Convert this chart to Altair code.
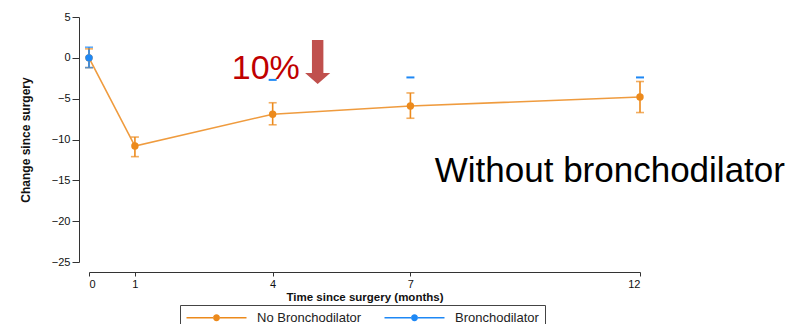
import altair as alt
import pandas as pd

# ---- data ----
months = [0, 1, 4, 7, 12]
no_mean = [0.0, -10.8, -6.9, -5.9, -4.8]
no_lo = [-1.2, -12.1, -8.2, -7.4, -6.7]
no_hi = [1.1, -9.7, -5.5, -4.3, -2.9]

br_months = [0]
br_mean = [0.0]
br_lo = [-1.2]
br_hi = [1.3]

# visible fragments of the (mostly hidden) bronchodilator error bars
br_cap_months = [4, 7, 12]
br_cap_vals = [-2.7, -2.4, -2.4]

series = ["No Bronchodilator", "Bronchodilator"]
colors = ["#EC8A1C", "#1E88F5"]

y_ticks = [5, 0, -5, -10, -15, -20, -25]
x_ticks = [0, 1, 4, 7, 12]

# annotations (data coordinates)
pct_text = ["10%"]
pct_pos = [3.11, -2.57]
arrow_pos = [4.98, -0.5]
note_text = ["Without bronchodilator"]
note_pos = [7.53, -15.2]

FONT = "Liberation Sans"

rows = []
for m, v, lo, hi in zip(months, no_mean, no_lo, no_hi):
    rows.append({"series": series[0], "month": m, "mean": v, "lo": lo, "hi": hi})
for m, v, lo, hi in zip(br_months, br_mean, br_lo, br_hi):
    rows.append({"series": series[1], "month": m, "mean": v, "lo": lo, "hi": hi})
df = pd.DataFrame(rows)

caps_df = pd.DataFrame({"month": br_cap_months, "val": br_cap_vals})

xscale = alt.Scale(domain=[0, 12], nice=False, zero=False)
yscale = alt.Scale(domain=[-25, 5], nice=False, zero=False)
cscale = alt.Scale(domain=series, range=colors)

x_axis = alt.Axis(values=x_ticks, title="Time since surgery (months)", offset=10,
                  tickSize=4, labelPadding=2, titlePadding=2, grid=False,
                  labelFontSize=11, titleFontSize=11.5, titleFontWeight="bold",
                  labelFont=FONT, titleFont=FONT, domainColor="#333", tickColor="#333",
                  labelColor="#111", titleColor="#111", format="d")
y_axis = alt.Axis(values=y_ticks, title="Change since surgery", offset=10,
                  tickSize=7, labelPadding=2, titlePadding=19, grid=False,
                  labelFontSize=11, titleFontSize=12, titleFontWeight="bold",
                  labelFont=FONT, titleFont=FONT, domainColor="#333", tickColor="#333",
                  labelColor="#111", titleColor="#111", format="d")

# legend key: a 60px line with a dot in its middle, extending to the right of
# the nominal 12px symbol box (scale = 6px per unit)
legend_shape = ("M-1,-0.12H3.45V0.12H-1Z M4.55,-0.12H9V0.12H4.55Z "
                "M3.42,0A0.58,0.58 0 1,0 4.58,0A0.58,0.58 0 1,0 3.42,0Z")

legend = alt.Legend(
    title=None, orient="none", legendX=91, legendY=288,
    direction="horizontal", columns=2,
    symbolType=legend_shape, symbolSize=144, symbolStrokeWidth=0,
    symbolOpacity=1,
    labelFont=FONT, labelFontSize=13, labelColor="#222",
    labelOffset=58, columnPadding=22,
    strokeColor="#444", fillColor="white", padding=6,
)
color = alt.Color("series:N", scale=cscale, legend=legend)

base = alt.Chart(df)

line = base.transform_filter(alt.datum.series == series[0]).mark_line(
    strokeWidth=1.6, opacity=0.85
).encode(
    x=alt.X("month:Q", scale=xscale, axis=x_axis),
    y=alt.Y("mean:Q", scale=yscale, axis=y_axis),
    color=color,
)

stems = base.mark_rule(strokeWidth=1.6).encode(
    x="month:Q",
    y="lo:Q",
    y2="hi:Q",
    color=color,
)

caps = base.transform_fold(["lo", "hi"], as_=["k", "v"]).mark_tick(
    orient="horizontal", size=8, thickness=1.6
).encode(
    x="month:Q",
    y="v:Q",
    color=color,
)

points = base.mark_point(filled=True, size=55, opacity=1).encode(
    x="month:Q",
    y="mean:Q",
    color=color,
)

blue_caps = alt.Chart(caps_df).mark_tick(
    orient="horizontal", size=8, thickness=2, color=colors[1], opacity=1
).encode(x="month:Q", y="val:Q")

pct = alt.Chart(pd.DataFrame({"x": [pct_pos[0]], "y": [pct_pos[1]], "t": pct_text})).mark_text(
    align="left", baseline="alphabetic", font=FONT, fontSize=34, color="#C00000"
).encode(x="x:Q", y="y:Q", text="t:N")

arrow_path = "M-0.26,-1L0.26,-1L0.26,0.5L0.57,0.5L0,1L-0.57,0.5L-0.26,0.5Z"
arrow = alt.Chart(pd.DataFrame({"x": [arrow_pos[0]], "y": [arrow_pos[1]]})).mark_point(
    shape=arrow_path, filled=True, size=1936, color="#C0504D", opacity=1, strokeWidth=0
).encode(x="x:Q", y="y:Q")

note = alt.Chart(pd.DataFrame({"x": [note_pos[0]], "y": [note_pos[1]], "t": note_text})).mark_text(
    align="left", baseline="alphabetic", font=FONT, fontSize=35, color="#000000"
).encode(x="x:Q", y="y:Q", text="t:N")

chart = alt.layer(line, stems, caps, points, blue_caps, pct, arrow, note).properties(
    width=551, height=245,
    autosize=alt.AutoSizeParams(type="none"),
    padding={"left": 81, "top": 9, "right": 152, "bottom": 62},
).configure(background="white").configure_view(stroke=None)

chart.save("out.html", embed_options={"renderer": "svg", "actions": False})
